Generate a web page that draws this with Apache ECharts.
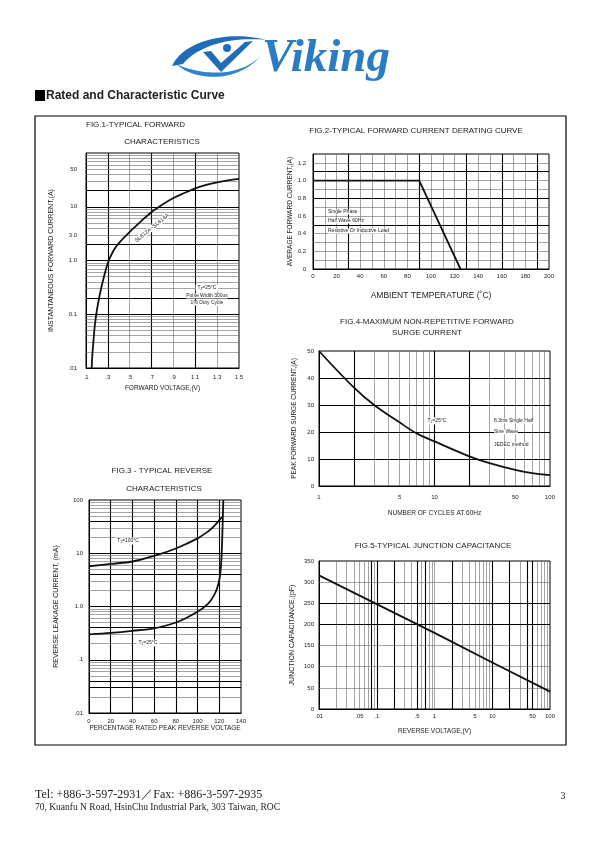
<!DOCTYPE html>
<html><head><meta charset="utf-8">
<script src="https://cdn.jsdelivr.net/npm/echarts@6/dist/echarts.min.js"></script>
<style>html,body{margin:0;padding:0;background:#fff}#c{width:595px;height:842px}</style>
</head><body><div id="c"></div>
<script>
// ---------- DATA ----------
// Fig.1 typical forward characteristics
const fig1Voltage = [0.152, 0.16, 0.17, 0.18, 0.2, 0.22, 0.25, 0.3, 0.35, 0.4, 0.5, 0.6, 0.7, 0.8, 0.9, 1.0, 1.1, 1.2, 1.3, 1.4, 1.5];
const fig1Current = [0.01, 0.02, 0.035, 0.06, 0.12, 0.2, 0.38, 0.9, 1.5, 2.1, 3.4, 5.3, 8.0, 11, 14.5, 18, 22, 25.5, 28.5, 31, 33];
const fig1XTicks = [0.1, 0.3, 0.5, 0.7, 0.9, 1.1, 1.3, 1.5];
const fig1XLabels = ['.1', '.3', '.5', '.7', '.9', '1.1', '1.3', '1.5'];
const fig1YTicks = [0.01, 0.1, 1, 3, 10, 50];
const fig1YLabels = ['.01', '0.1', '1.0', '3.0', '10', '50'];
const fig1GridX = [0.3, 0.5, 0.7, 0.9, 1.1, 1.3];
const fig1GridXBold = [0.3, 0.7, 1.1];
const fig1GridYBold = [0.1, 0.2, 1, 2, 10, 20];

// Fig.2 forward current derating curve
const fig2Temp = [0, 90, 125];
const fig2Current = [1.0, 1.0, 0];
const fig2XTicks = [0, 20, 40, 60, 80, 100, 120, 140, 160, 180, 200];
const fig2XLabels = ['0', '20', '40', '60', '80', '100', '120', '140', '160', '180', '200'];
const fig2YTicks = [0, 0.2, 0.4, 0.6, 0.8, 1.0, 1.2];
const fig2YLabels = ['0', '0.2', '0.4', '0.6', '0.8', '1.0', '1.2'];
const fig2GridX = [10, 20, 30, 40, 50, 60, 70, 80, 90, 100, 110, 120, 130, 140, 150, 160, 170, 180, 190];
const fig2GridXBold = [30, 90, 130, 160, 190];
const fig2GridY = [0.1, 0.2, 0.3, 0.4, 0.5, 0.6, 0.7, 0.8, 0.9, 1.0, 1.1, 1.2];
const fig2GridYBold = [0.5, 0.8, 1.1];

// Fig.3 typical reverse characteristics
const fig3Pct100 = [0, 20, 40, 60, 80, 100, 110, 115, 120, 122.5];
const fig3Leak100 = [5.7, 6.3, 7.0, 8.9, 12.3, 19, 26, 32, 42, 48];
const fig3Pct25 = [0, 20, 40, 60, 80, 100, 110, 115, 118, 120.5, 122, 123, 123.7];
const fig3Leak25 = [0.30, 0.32, 0.35, 0.39, 0.5, 0.8, 1.15, 1.6, 2.2, 3.6, 8, 30, 100];
const fig3XTicks = [0, 20, 40, 60, 80, 100, 120, 140];
const fig3XLabels = ['0', '20', '40', '60', '80', '100', '120', '140'];
const fig3YTicks = [0.01, 0.1, 1, 10, 100];
const fig3YLabels = ['.01', '.1', '1.0', '10', '100'];
const fig3GridX = [20, 40, 60, 80, 100, 120];
const fig3GridYBold = [0.03, 0.04, 0.1, 0.4, 1, 4, 10, 40];

// Fig.4 maximum non-repetitive forward surge current
const fig4Cycles = [1, 2, 3, 5, 7, 10, 20, 30, 50, 70, 100];
const fig4Surge = [50, 36.5, 30, 23.5, 19.5, 16.5, 11, 8.5, 6, 4.8, 4.0];
const fig4XTicks = [1, 5, 10, 50, 100];
const fig4XLabels = ['1', '5', '10', '50', '100'];
const fig4YTicks = [0, 10, 20, 30, 40, 50];
const fig4YLabels = ['0', '10', '20', '30', '40', '50'];
const fig4GridXBold = [2, 10, 20];
const fig4GridY = [10, 20, 30, 40];

// Fig.5 typical junction capacitance
const fig5Volt = [0.01, 0.1, 1, 10, 100];
const fig5Cap = [316, 248, 180, 110, 41];
const fig5XTicks = [0.01, 0.05, 0.1, 0.5, 1, 5, 10, 50, 100];
const fig5XLabels = ['.01', '.05', '.1', '.5', '1', '5', '10', '50', '100'];
const fig5YTicks = [0, 50, 100, 150, 200, 250, 300, 350];
const fig5YLabels = ['0', '50', '100', '150', '200', '250', '300', '350'];
const fig5GridXBold = [0.08, 0.1, 0.2, 0.5, 0.7, 2, 10, 20, 40, 50];
const fig5GridY = [50, 100, 150, 200, 250, 300];
const fig5GridYBold = [200, 250];

// ---------- HELPERS ----------
const FONT = 'Liberation Sans, Arial, Helvetica, sans-serif';
const SERIF = 'Liberation Serif, Times New Roman, serif';
const TXT = '#222';

function logGrid(minExp, maxExp) {
  const out = [];
  for (let e = minExp; e < maxExp; e++) {
    for (let k = 1; k <= 9; k++) {
      const v = +(k * Math.pow(10, e)).toPrecision(6);
      if (!(k === 1 && e === minExp)) out.push(v);
    }
  }
  return out;
}
function labelFor(ticks, labels) {
  return function (v) {
    for (let i = 0; i < ticks.length; i++) {
      if (Math.abs(v - ticks[i]) <= Math.abs(ticks[i]) * 1e-6 + 1e-9) return labels[i];
    }
    return '';
  };
}
function zip(a, b) { return a.map((x, i) => [x, b[i]]); }
function axis(gridIndex, type, min, max, ticks, labels, name, nameGap, margin, nameSize) {
  const a = {
    gridIndex, type, min, max,
    name, nameLocation: 'middle', nameGap,
    nameTextStyle: { fontFamily: FONT, fontSize: nameSize, color: TXT },
    axisLine: { show: true, lineStyle: { color: '#000', width: 1 } },
    axisTick: { show: false },
    splitLine: { show: false },
    minorSplitLine: { show: false },
    axisLabel: {
      customValues: ticks, formatter: labelFor(ticks, labels),
      fontFamily: FONT, fontSize: 6, color: TXT, margin
    }
  };
  if (type === 'log') a.logBase = 10;
  return a;
}
function gridLines(idx, xs, xsBold, ys, ysBold, thin, bold) {
  const data = [];
  const thinStyle = { color: thin.color, width: thin.width, type: 'solid' };
  const boldStyle = { color: bold.color, width: bold.width, type: 'solid' };
  xs.forEach(v => data.push({ xAxis: v, lineStyle: xsBold.some(b => Math.abs(b - v) < 1e-9) ? boldStyle : thinStyle }));
  ys.forEach(v => data.push({ yAxis: v, lineStyle: ysBold.some(b => Math.abs(b - v) < 1e-9) ? boldStyle : thinStyle }));
  return {
    type: 'line', xAxisIndex: idx, yAxisIndex: idx, data: [], silent: true, z: 1,
    markLine: { symbol: ['none', 'none'], silent: true, animation: false, label: { show: false },
      emphasis: { disabled: true }, data }
  };
}
function curve(idx, data, smooth) {
  return {
    type: 'line', xAxisIndex: idx, yAxisIndex: idx, data, smooth,
    symbol: 'none', showSymbol: false, silent: true, z: 5, clip: true,
    lineStyle: { color: '#111', width: 1.8 }
  };
}
function txt(x, y, text, size, opt) {
  opt = opt || {};
  return {
    type: 'text', x, y, z: 20, rotation: opt.rotation || 0,
    style: Object.assign({
      text, fontSize: size, fontFamily: opt.family || FONT, fill: opt.fill || TXT,
      align: opt.align || 'center', verticalAlign: 'middle', fontWeight: opt.weight || 'normal'
    }, opt.extra || {})
  };
}
const subRich = { s: { fontSize: 3.5, fontFamily: FONT, fill: TXT, padding: [3, 0, 0, 0] } };
function tj(x, y, text, size, bg) {
  return txt(x, y, text, size, { extra: { rich: subRich, backgroundColor: bg ? '#fff' : 'transparent', padding: [0, 2, 0, 2] } });
}
// cubic bezier sampler for the logo outline
function bez(p0, p1, p2, p3, n) {
  const pts = [];
  for (let i = 0; i <= n; i++) {
    const t = i / n, u = 1 - t;
    pts.push([
      u * u * u * p0[0] + 3 * u * u * t * p1[0] + 3 * u * t * t * p2[0] + t * t * t * p3[0],
      u * u * u * p0[1] + 3 * u * u * t * p1[1] + 3 * u * t * t * p2[1] + t * t * t * p3[1]
    ]);
  }
  return pts;
}
const swooshTop = bez([172, 66], [184, 40], [230, 30], [266, 40], 24).concat(bez([266, 40], [232, 36], [197, 46], [183, 64], 24));
const swooshBottom = bez([176, 64], [197, 83], [241, 82], [262, 54], 24).concat(bez([262, 54], [245, 75], [207, 78], [176, 64], 24));

const thinC = { color: '#666', width: 0.6 };
const boldC = { color: '#000', width: 1.1 };

// ---------- CHART ----------
const chart = echarts.init(document.getElementById('c'), null, { renderer: 'canvas' });
const gridBox = { show: true, borderColor: '#000', borderWidth: 1, backgroundColor: 'transparent', containLabel: false };

const option = {
  animation: false,
  backgroundColor: '#fff',
  grid: [
    Object.assign({ left: 86, top: 153, width: 153, height: 215 }, gridBox),
    Object.assign({ left: 313, top: 154, width: 236, height: 115 }, gridBox),
    Object.assign({ left: 89, top: 500, width: 152, height: 213 }, gridBox),
    Object.assign({ left: 319, top: 351, width: 231, height: 135 }, gridBox),
    Object.assign({ left: 319, top: 561, width: 231, height: 148 }, gridBox)
  ],
  xAxis: [
    axis(0, 'value', 0.1, 1.5, fig1XTicks, fig1XLabels, 'FORWARD VOLTAGE,(V)', 17, 6, 6.5),
    axis(1, 'value', 0, 200, fig2XTicks, fig2XLabels, 'AMBIENT TEMPERATURE (\u02DAC)', 22, 4, 8.5),
    axis(2, 'value', 0, 140, fig3XTicks, fig3XLabels, 'PERCENTAGE RATED PEAK REVERSE VOLTAGE', 12, 5, 6.5),
    axis(3, 'log', 1, 100, fig4XTicks, fig4XLabels, 'NUMBER OF CYCLES AT 60Hz', 24, 8, 6.5),
    axis(4, 'log', 0.01, 100, fig5XTicks, fig5XLabels, 'REVERSE VOLTAGE,(V)', 19, 4, 6.5)
  ],
  yAxis: [
    axis(0, 'log', 0.01, 100, fig1YTicks, fig1YLabels, 'INSTANTANEOUS FORWARD CURRENT,(A)', 31, 9, 7),
    axis(1, 'value', 0, 1.3, fig2YTicks, fig2YLabels, 'AVERAGE FORWARD CURRENT,(A)', 18, 7, 6.5),
    axis(2, 'log', 0.01, 100, fig3YTicks, fig3YLabels, 'REVERSE LEAKAGE CURRENT, (mA)', 29, 6, 7),
    axis(3, 'value', 0, 50, fig4YTicks, fig4YLabels, 'PEAK FORWARD SURGE CURRENT,(A)', 21, 5, 6.5),
    axis(4, 'value', 0, 350, fig5YTicks, fig5YLabels, 'JUNCTION CAPACITANCE,(pF)', 23, 5, 7)
  ],
  series: [
    gridLines(0, fig1GridX, fig1GridXBold, logGrid(-2, 2), fig1GridYBold, thinC, boldC),
    gridLines(1, fig2GridX, fig2GridXBold, fig2GridY, fig2GridYBold, thinC, boldC),
    gridLines(2, fig3GridX, fig3GridX, logGrid(-2, 2), fig3GridYBold, thinC, boldC),
    gridLines(3, logGrid(0, 2), fig4GridXBold, fig4GridY, fig4GridY, thinC, boldC),
    gridLines(4, logGrid(-2, 2), fig5GridXBold, fig5GridY, fig5GridYBold, thinC, boldC),
    curve(0, zip(fig1Voltage, fig1Current), 0.35),
    curve(1, zip(fig2Temp, fig2Current), false),
    curve(2, zip(fig3Pct100, fig3Leak100), 0.35),
    curve(2, zip(fig3Pct25, fig3Leak25), 0.3),
    curve(3, zip(fig4Cycles, fig4Surge), 0.35),
    curve(4, zip(fig5Volt, fig5Cap), false)
  ],
  graphic: [
    // logo
    { type: 'polygon', z: 10, shape: { points: swooshTop }, style: { fill: '#1f6db6' } },
    { type: 'polygon', z: 10, shape: { points: swooshBottom }, style: { fill: '#2b84cc' } },
    { type: 'polygon', z: 10, shape: { points: [[203, 52], [221, 72], [253, 41], [245, 42], [221, 63], [211, 51]] }, style: { fill: '#1f6db6' } },
    { type: 'circle', z: 10, shape: { cx: 227, cy: 48, r: 4 }, style: { fill: '#1f6db6' } },
    { type: 'text', z: 10, x: 262, y: 82, style: { text: 'Viking', fontSize: 47, fontStyle: 'italic', fontWeight: 'bold', fontFamily: SERIF,
      align: 'left', verticalAlign: 'bottom', fill: '#2a7dc4' } },
    // heading
    { type: 'rect', shape: { x: 35, y: 90, width: 10, height: 11 }, style: { fill: '#000' } },
    txt(46, 96, 'Rated and Characteristic Curve', 12, { align: 'left', weight: 'bold' }),
    // frame
    { type: 'rect', z: 0, shape: { x: 35, y: 116, width: 531, height: 629 }, style: { fill: 'none', stroke: '#000', lineWidth: 1.2 } },
    // figure titles
    txt(86, 125, 'FIG.1-TYPICAL FORWARD', 8, { align: 'left' }),
    txt(162, 142, 'CHARACTERISTICS', 8),
    txt(416, 131, 'FIG.2-TYPICAL FORWARD CURRENT DERATING CURVE', 8),
    txt(427, 322, 'FIG.4-MAXIMUM NON-REPETITIVE FORWARD', 8),
    txt(427, 333, 'SURGE CURRENT', 8),
    txt(162, 471, 'FIG.3 - TYPICAL REVERSE', 8),
    txt(164, 489, 'CHARACTERISTICS', 8),
    txt(433, 546, 'FIG.5-TYPICAL JUNCTION CAPACITANCE', 8),
    // annotations
    txt(152, 228, 'SL612A~SL614A', 5.5, { rotation: 0.68, extra: { backgroundColor: '#fff' } }),
    tj(207, 288, 'T{s|J}=25\u00B0C', 5, true),
    txt(207, 296, 'Pulse Width 300us', 5, { extra: { backgroundColor: '#fff' } }),
    txt(207, 303, '1% Duty Cycle', 5, { extra: { backgroundColor: '#fff' } }),
    txt(328, 212, 'Single Phase', 5, { align: 'left', extra: { backgroundColor: '#fff' } }),
    txt(328, 221, 'Half Wave 60Hz', 5, { align: 'left', extra: { backgroundColor: '#fff' } }),
    txt(328, 231, 'Resistive Or Inductive Load', 5, { align: 'left', extra: { backgroundColor: '#fff' } }),
    tj(437, 421, 'T{s|J}=25\u00B0C', 5, true),
    txt(494, 421, '8.3ms Single Half', 5, { align: 'left', extra: { backgroundColor: '#fff' } }),
    txt(494, 432, 'Sine Wave', 5, { align: 'left', extra: { backgroundColor: '#fff' } }),
    txt(494, 445, 'JEDEC method', 5, { align: 'left', extra: { backgroundColor: '#fff' } }),
    tj(128, 541, 'T{s|J}=100\u00B0C', 5, true),
    tj(148, 643, 'T{s|J}=25\u00B0C', 5, true),
    // footer
    txt(35, 795, 'Tel: +886-3-597-2931\uFF0FFax: +886-3-597-2935', 12, { align: 'left', family: SERIF }),
    txt(35, 807, '70, Kuanfu N Road, HsinChu Industrial Park, 303 Taiwan, ROC', 9.5, { align: 'left', family: SERIF }),
    txt(563, 796, '3', 10, { family: SERIF })
  ]
};
chart.setOption(option);
</script>
</body></html>
